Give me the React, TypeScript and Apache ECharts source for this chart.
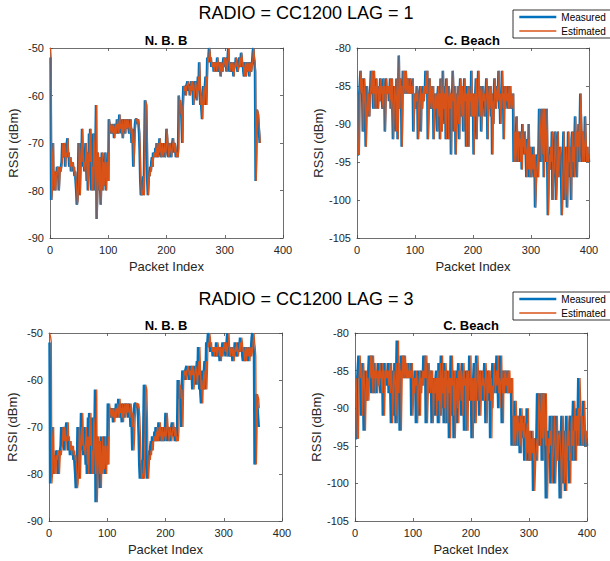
import React, { useEffect, useRef } from "react";
import * as echarts from "echarts";

// ---------- data ----------
const nbbMeasured = [
  -52, -82, -80, -72, -70, -80, -76, -78, -80, -76, -77, -75, -76, -75, -80, -77, -75, -76, -75, -74,
  -70, -72, -73, -70, -71, -75, -72, -73, -70, -69, -73, -72, -75, -74, -73, -76, -74, -75, -74, -76,
  -75, -77, -76, -78, -80, -83, -82, -79, -70, -72, -81, -76, -70, -74, -67, -72, -75, -74, -76, -73,
  -70, -74, -78, -72, -80, -76, -68, -74, -67, -73, -80, -75, -80, -68, -70, -76, -80, -72, -62, -86,
  -80, -72, -75, -80, -73, -78, -83, -76, -72, -80, -74, -79, -76, -72, -78, -80, -74, -78, -72, -78,
  -65, -66, -67, -68, -66, -67, -68, -66, -67, -69, -67, -66, -68, -67, -65, -66, -68, -67, -64, -67,
  -66, -68, -65, -67, -69, -66, -65, -67, -68, -65, -66, -67, -65, -66, -67, -68, -66, -65, -67, -70,
  -67, -70, -75, -72, -68, -66, -65, -65, -65, -66, -65, -66, -68, -72, -78, -81, -80, -81, -81, -77,
  -81, -70, -61, -61, -62, -68, -78, -81, -81, -76, -77, -75, -76, -74, -73, -75, -72, -73, -72, -73,
  -71, -73, -70, -72, -73, -70, -72, -69, -71, -73, -72, -70, -73, -71, -72, -70, -73, -72, -71, -67,
  -69, -71, -73, -72, -70, -71, -72, -73, -71, -70, -69, -71, -72, -70, -71, -73, -72, -72, -73, -71,
  -60, -62, -61, -64, -62, -66, -70, -62, -58, -58, -59, -58, -60, -58, -58, -57, -58, -59, -58, -60,
  -58, -57, -59, -57, -58, -62, -60, -58, -57, -58, -60, -61, -58, -56, -59, -53, -57, -62, -60, -63,
  -65, -60, -58, -62, -60, -58, -56, -62, -58, -52, -53, -52, -50, -51, -53, -52, -54, -53, -54, -53,
  -55, -53, -54, -53, -55, -54, -52, -53, -54, -55, -53, -54, -56, -53, -54, -55, -53, -52, -53, -54,
  -52, -53, -55, -53, -52, -50, -53, -55, -54, -53, -54, -55, -53, -54, -56, -54, -53, -54, -52, -53,
  -54, -55, -54, -53, -52, -54, -53, -51, -52, -54, -53, -55, -56, -54, -53, -56, -54, -53, -55, -54,
  -53, -56, -54, -53, -55, -54, -53, -51, -50, -52, -53, -55, -78, -72, -63, -63, -64, -66, -68, -70,
  -70,
];

const nbbEstimatedLag1 = [
  -50, -52, -82, -80, -72, -70, -80, -76, -78, -80, -76, -77, -75, -76, -75, -80, -77, -75, -76, -75,
  -74, -70, -72, -73, -70, -71, -75, -72, -73, -70, -69, -73, -72, -75, -74, -73, -76, -74, -75, -74,
  -76, -75, -77, -76, -78, -80, -83, -82, -79, -70, -72, -81, -76, -70, -74, -67, -72, -75, -74, -76,
  -73, -70, -74, -78, -72, -80, -76, -68, -74, -67, -73, -80, -75, -80, -68, -70, -76, -80, -72, -62,
  -86, -80, -72, -75, -80, -73, -78, -83, -76, -72, -80, -74, -79, -76, -72, -78, -80, -74, -78, -72,
  -78, -65, -66, -67, -68, -66, -67, -68, -66, -67, -69, -67, -66, -68, -67, -65, -66, -68, -67, -64,
  -67, -66, -68, -65, -67, -69, -66, -65, -67, -68, -65, -66, -67, -65, -66, -67, -68, -66, -65, -67,
  -70, -67, -70, -75, -72, -68, -66, -65, -65, -65, -66, -65, -66, -68, -72, -78, -81, -80, -81, -81,
  -77, -81, -70, -61, -61, -62, -68, -78, -81, -81, -76, -77, -75, -76, -74, -73, -75, -72, -73, -72,
  -73, -71, -73, -70, -72, -73, -70, -72, -69, -71, -73, -72, -70, -73, -71, -72, -70, -73, -72, -71,
  -67, -69, -71, -73, -72, -70, -71, -72, -73, -71, -70, -69, -71, -72, -70, -71, -73, -72, -72, -73,
  -71, -60, -62, -61, -64, -62, -66, -70, -62, -58, -58, -59, -58, -60, -58, -58, -57, -58, -59, -58,
  -60, -58, -57, -59, -57, -58, -62, -60, -58, -57, -58, -60, -61, -58, -56, -59, -53, -57, -62, -60,
  -63, -65, -60, -58, -62, -60, -58, -56, -62, -58, -52, -53, -52, -50, -51, -53, -52, -54, -53, -54,
  -53, -55, -53, -54, -53, -55, -54, -52, -53, -54, -55, -53, -54, -56, -53, -54, -55, -53, -52, -53,
  -54, -52, -53, -55, -53, -52, -50, -53, -55, -54, -53, -54, -55, -53, -54, -56, -54, -53, -54, -52,
  -53, -54, -55, -54, -53, -52, -54, -53, -51, -52, -54, -53, -55, -56, -54, -53, -56, -54, -53, -55,
  -54, -53, -56, -54, -53, -55, -54, -53, -51, -50, -52, -53, -55, -78, -72, -63, -63, -64, -66, -68,
  -70,
];

const nbbEstimatedLag3 = [
  -50, -50, -51, -52, -82, -80, -72, -70, -80, -76, -78, -80, -76, -77, -75, -76, -75, -80, -77, -75,
  -76, -75, -74, -70, -72, -73, -70, -71, -75, -72, -73, -70, -69, -73, -72, -75, -74, -73, -76, -74,
  -75, -74, -76, -75, -77, -76, -78, -80, -83, -82, -79, -70, -72, -81, -76, -70, -74, -67, -72, -75,
  -74, -76, -73, -70, -74, -78, -72, -80, -76, -68, -74, -67, -73, -80, -75, -80, -68, -70, -76, -80,
  -72, -62, -86, -80, -72, -75, -80, -73, -78, -83, -76, -72, -80, -74, -79, -76, -72, -78, -80, -74,
  -78, -72, -78, -65, -66, -67, -68, -66, -67, -68, -66, -67, -69, -67, -66, -68, -67, -65, -66, -68,
  -67, -64, -67, -66, -68, -65, -67, -69, -66, -65, -67, -68, -65, -66, -67, -65, -66, -67, -68, -66,
  -65, -67, -70, -67, -70, -75, -72, -68, -66, -65, -65, -65, -66, -65, -66, -68, -72, -78, -81, -80,
  -81, -81, -77, -81, -70, -61, -61, -62, -68, -78, -81, -81, -76, -77, -75, -76, -74, -73, -75, -72,
  -73, -72, -73, -71, -73, -70, -72, -73, -70, -72, -69, -71, -73, -72, -70, -73, -71, -72, -70, -73,
  -72, -71, -67, -69, -71, -73, -72, -70, -71, -72, -73, -71, -70, -69, -71, -72, -70, -71, -73, -72,
  -72, -73, -71, -60, -62, -61, -64, -62, -66, -70, -62, -58, -58, -59, -58, -60, -58, -58, -57, -58,
  -59, -58, -60, -58, -57, -59, -57, -58, -62, -60, -58, -57, -58, -60, -61, -58, -56, -59, -53, -57,
  -62, -60, -63, -65, -60, -58, -62, -60, -58, -56, -62, -58, -52, -53, -52, -50, -51, -53, -52, -54,
  -53, -54, -53, -55, -53, -54, -53, -55, -54, -52, -53, -54, -55, -53, -54, -56, -53, -54, -55, -53,
  -52, -53, -54, -52, -53, -55, -53, -52, -50, -53, -55, -54, -53, -54, -55, -53, -54, -56, -54, -53,
  -54, -52, -53, -54, -55, -54, -53, -52, -54, -53, -51, -52, -54, -53, -55, -56, -54, -53, -56, -54,
  -53, -55, -54, -53, -56, -54, -53, -55, -54, -53, -51, -50, -52, -53, -55, -78, -72, -63, -63, -64,
  -66,
];

const cbMeasured = [
  -94, -94, -94, -86, -86, -83, -86, -84, -86, -91, -91, -84, -86, -88, -93, -93, -85, -89, -86, -87,
  -89, -86, -85, -83, -86, -83, -86, -88, -83, -86, -85, -88, -84, -86, -85, -88, -86, -85, -87, -84,
  -86, -85, -87, -88, -84, -86, -85, -91, -91, -84, -86, -85, -86, -85, -87, -86, -84, -88, -86, -84,
  -88, -92, -92, -85, -86, -87, -91, -84, -86, -92, -86, -81, -88, -84, -86, -85, -93, -93, -83, -86,
  -83, -84, -86, -83, -85, -86, -84, -86, -85, -86, -84, -86, -86, -85, -86, -84, -91, -91, -86, -88,
  -86, -87, -85, -86, -92, -92, -87, -86, -85, -91, -86, -88, -86, -85, -87, -85, -86, -83, -86, -85,
  -83, -92, -92, -86, -84, -87, -88, -85, -86, -88, -85, -92, -92, -86, -88, -87, -86, -91, -86, -85,
  -89, -86, -92, -84, -86, -91, -87, -83, -88, -86, -90, -85, -92, -84, -86, -87, -92, -85, -86, -88,
  -86, -94, -86, -87, -83, -86, -91, -88, -85, -94, -94, -86, -87, -90, -85, -92, -86, -84, -87, -89,
  -85, -87, -91, -86, -84, -87, -86, -93, -87, -85, -86, -93, -85, -87, -86, -89, -83, -89, -86, -87,
  -94, -86, -89, -86, -84, -92, -88, -86, -83, -86, -89, -86, -85, -91, -88, -86, -85, -87, -86, -89,
  -88, -86, -84, -86, -92, -87, -85, -88, -86, -85, -89, -86, -94, -87, -90, -86, -84, -86, -88, -86,
  -85, -87, -86, -83, -88, -86, -90, -87, -86, -83, -88, -86, -92, -85, -88, -86, -85, -87, -86, -88,
  -85, -88, -86, -85, -88, -86, -87, -88, -86, -95, -95, -91, -95, -93, -89, -89, -95, -91, -93, -92,
  -95, -91, -92, -96, -90, -93, -92, -94, -91, -93, -94, -97, -93, -92, -96, -90, -97, -94, -93, -97,
  -95, -94, -96, -93, -97, -94, -101, -101, -96, -95, -94, -97, -93, -88, -88, -92, -95, -88, -91, -94,
  -88, -97, -88, -88, -93, -95, -88, -94, -102, -102, -94, -96, -93, -94, -95, -91, -100, -97, -96, -94,
  -91, -93, -100, -100, -95, -91, -97, -94, -94, -93, -95, -97, -102, -102, -94, -91, -95, -100, -99, -93,
  -96, -101, -101, -91, -95, -93, -97, -96, -100, -92, -91, -95, -93, -97, -92, -89, -93, -91, -97, -91,
  -93, -90, -95, -91, -86, -86, -92, -95, -91, -93, -95, -93, -89, -92, -95, -94, -93, -95, -94, -95,
];

const cbEstimatedLag1 = [
  -86, -94, -94, -94, -86, -86, -83, -86, -84, -86, -91, -91, -84, -86, -88, -93, -93, -85, -89, -86,
  -87, -89, -86, -85, -83, -86, -83, -86, -88, -83, -86, -85, -88, -84, -86, -85, -88, -86, -85, -87,
  -84, -86, -85, -87, -88, -84, -86, -85, -91, -91, -84, -86, -85, -86, -85, -87, -86, -84, -88, -86,
  -84, -88, -92, -92, -85, -86, -87, -91, -84, -86, -92, -86, -81, -88, -84, -86, -85, -93, -93, -83,
  -86, -83, -84, -86, -83, -85, -86, -84, -86, -85, -86, -84, -86, -86, -85, -86, -84, -91, -91, -86,
  -88, -86, -87, -85, -86, -92, -92, -87, -86, -85, -91, -86, -88, -86, -85, -87, -85, -86, -83, -86,
  -85, -83, -92, -92, -86, -84, -87, -88, -85, -86, -88, -85, -92, -92, -86, -88, -87, -86, -91, -86,
  -85, -89, -86, -92, -84, -86, -91, -87, -83, -88, -86, -90, -85, -92, -84, -86, -87, -92, -85, -86,
  -88, -86, -94, -86, -87, -83, -86, -91, -88, -85, -94, -94, -86, -87, -90, -85, -92, -86, -84, -87,
  -89, -85, -87, -91, -86, -84, -87, -86, -93, -87, -85, -86, -93, -85, -87, -86, -89, -83, -89, -86,
  -87, -94, -86, -89, -86, -84, -92, -88, -86, -83, -86, -89, -86, -85, -91, -88, -86, -85, -87, -86,
  -89, -88, -86, -84, -86, -92, -87, -85, -88, -86, -85, -89, -86, -94, -87, -90, -86, -84, -86, -88,
  -86, -85, -87, -86, -83, -88, -86, -90, -87, -86, -83, -88, -86, -92, -85, -88, -86, -85, -87, -86,
  -88, -85, -88, -86, -85, -88, -86, -87, -88, -86, -95, -95, -91, -95, -93, -89, -89, -95, -91, -93,
  -92, -95, -91, -92, -96, -90, -93, -92, -94, -91, -93, -94, -97, -93, -92, -96, -90, -97, -94, -93,
  -97, -95, -94, -96, -93, -97, -94, -101, -101, -96, -95, -94, -97, -93, -88, -88, -92, -95, -88, -91,
  -94, -88, -97, -88, -88, -93, -95, -88, -94, -102, -102, -94, -96, -93, -94, -95, -91, -100, -97, -96,
  -94, -91, -93, -100, -100, -95, -91, -97, -94, -94, -93, -95, -97, -102, -102, -94, -91, -95, -100, -99,
  -93, -96, -101, -101, -91, -95, -93, -97, -96, -100, -92, -91, -95, -93, -97, -92, -89, -93, -91, -97,
  -91, -93, -90, -95, -91, -86, -86, -92, -95, -91, -93, -95, -93, -89, -92, -95, -94, -93, -95, -94,
];

const cbEstimatedLag3 = [
  -88, -86, -90, -94, -94, -94, -86, -86, -83, -86, -84, -86, -91, -91, -84, -86, -88, -93, -93, -85,
  -89, -86, -87, -89, -86, -85, -83, -86, -83, -86, -88, -83, -86, -85, -88, -84, -86, -85, -88, -86,
  -85, -87, -84, -86, -85, -87, -88, -84, -86, -85, -91, -91, -84, -86, -85, -86, -85, -87, -86, -84,
  -88, -86, -84, -88, -92, -92, -85, -86, -87, -91, -84, -86, -92, -86, -81, -88, -84, -86, -85, -93,
  -93, -83, -86, -83, -84, -86, -83, -85, -86, -84, -86, -85, -86, -84, -86, -86, -85, -86, -84, -91,
  -91, -86, -88, -86, -87, -85, -86, -92, -92, -87, -86, -85, -91, -86, -88, -86, -85, -87, -85, -86,
  -83, -86, -85, -83, -92, -92, -86, -84, -87, -88, -85, -86, -88, -85, -92, -92, -86, -88, -87, -86,
  -91, -86, -85, -89, -86, -92, -84, -86, -91, -87, -83, -88, -86, -90, -85, -92, -84, -86, -87, -92,
  -85, -86, -88, -86, -94, -86, -87, -83, -86, -91, -88, -85, -94, -94, -86, -87, -90, -85, -92, -86,
  -84, -87, -89, -85, -87, -91, -86, -84, -87, -86, -93, -87, -85, -86, -93, -85, -87, -86, -89, -83,
  -89, -86, -87, -94, -86, -89, -86, -84, -92, -88, -86, -83, -86, -89, -86, -85, -91, -88, -86, -85,
  -87, -86, -89, -88, -86, -84, -86, -92, -87, -85, -88, -86, -85, -89, -86, -94, -87, -90, -86, -84,
  -86, -88, -86, -85, -87, -86, -83, -88, -86, -90, -87, -86, -83, -88, -86, -92, -85, -88, -86, -85,
  -87, -86, -88, -85, -88, -86, -85, -88, -86, -87, -88, -86, -95, -95, -91, -95, -93, -89, -89, -95,
  -91, -93, -92, -95, -91, -92, -96, -90, -93, -92, -94, -91, -93, -94, -97, -93, -92, -96, -90, -97,
  -94, -93, -97, -95, -94, -96, -93, -97, -94, -101, -101, -96, -95, -94, -97, -93, -88, -88, -92, -95,
  -88, -91, -94, -88, -97, -88, -88, -93, -95, -88, -94, -102, -102, -94, -96, -93, -94, -95, -91, -100,
  -97, -96, -94, -91, -93, -100, -100, -95, -91, -97, -94, -94, -93, -95, -97, -102, -102, -94, -91, -95,
  -100, -99, -93, -96, -101, -101, -91, -95, -93, -97, -96, -100, -92, -91, -95, -93, -97, -92, -89, -93,
  -91, -97, -91, -93, -90, -95, -91, -86, -86, -92, -95, -91, -93, -95, -93, -89, -92, -95, -94, -93,
];

const superTitles = ["RADIO = CC1200 LAG = 1", "RADIO = CC1200 LAG = 3"];
const panelTitles = ["N. B. B", "C. Beach", "N. B. B", "C. Beach"];
const seriesNames = ["Measured", "Estimated"];
const xTickRange = [0, 400, 100];
const nbbYRange = [-90, -50, 10];
const cbYRange = [-105, -80, 5];

const BLUE = "#0072BD";
const ORANGE = "#D95319";
const AXIS = "#4a4a4a";
const FONT = "Liberation Sans, Arial, Helvetica, sans-serif";

const toPairs = (arr: number[]) => arr.map((v, i) => [i + 1, v]);

export default function App() {
  const ref = useRef<HTMLDivElement>(null);
  useEffect(() => {
    if (!ref.current) return;
    const chart = echarts.init(ref.current, null, { renderer: "svg" });

    const panels = [
      { grid: { left: 50, top: 48, width: 233, height: 190 }, y: nbbYRange, meas: nbbMeasured, est: nbbEstimatedLag1, tx: 166, ty: 40 },
      { grid: { left: 357, top: 48, width: 232, height: 190 }, y: cbYRange, meas: cbMeasured, est: cbEstimatedLag1, tx: 472, ty: 40 },
      { grid: { left: 49, top: 333, width: 233, height: 188 }, y: nbbYRange, meas: nbbMeasured, est: nbbEstimatedLag3, tx: 166, ty: 325 },
      { grid: { left: 355, top: 333, width: 232, height: 188 }, y: cbYRange, meas: cbMeasured, est: cbEstimatedLag3, tx: 471, ty: 325 },
    ];

    const lineStyle = { color: AXIS, width: 0.8 };
    const grids: any[] = [];
    const xAxes: any[] = [];
    const yAxes: any[] = [];
    const series: any[] = [];
    const graphics: any[] = [];

    panels.forEach((p, i) => {
      grids.push({ ...p.grid, containLabel: false });
      const base = {
        gridIndex: i,
        type: "value",
        splitLine: { show: false },
        axisLine: { show: true, onZero: false, lineStyle },
        axisTick: { show: true, inside: true, length: 3, lineStyle },
      };
      xAxes.push({
        ...base,
        position: "bottom",
        min: xTickRange[0],
        max: xTickRange[1],
        interval: xTickRange[2],
        axisLabel: { color: "#262626", fontSize: 11, fontFamily: FONT, margin: 6 },
        name: "Packet Index",
        nameLocation: "middle",
        nameGap: 22,
        nameTextStyle: { color: "#262626", fontSize: 13, fontFamily: FONT },
      });
      xAxes.push({
        ...base,
        position: "top",
        min: xTickRange[0],
        max: xTickRange[1],
        interval: xTickRange[2],
        axisLabel: { show: false },
      });
      yAxes.push({
        ...base,
        position: "left",
        min: p.y[0],
        max: p.y[1],
        interval: p.y[2],
        axisLabel: { color: "#262626", fontSize: 11, fontFamily: FONT, margin: 6 },
        name: "RSSI (dBm)",
        nameLocation: "middle",
        nameGap: 30,
        nameTextStyle: { color: "#262626", fontSize: 13, fontFamily: FONT },
      });
      yAxes.push({
        ...base,
        position: "right",
        min: p.y[0],
        max: p.y[1],
        interval: p.y[2],
        axisLabel: { show: false },
      });
      series.push({
        type: "line",
        name: seriesNames[0],
        xAxisIndex: 2 * i,
        yAxisIndex: 2 * i,
        data: toPairs(p.meas),
        symbol: "none",
        showSymbol: false,
        lineStyle: { color: BLUE, width: 2.6 },
        itemStyle: { color: BLUE },
        z: 2,
      });
      series.push({
        type: "line",
        name: seriesNames[1],
        xAxisIndex: 2 * i,
        yAxisIndex: 2 * i,
        data: toPairs(p.est),
        symbol: "none",
        showSymbol: false,
        lineStyle: { color: ORANGE, width: 1.3 },
        itemStyle: { color: ORANGE },
        z: 3,
      });
      graphics.push({
        type: "text",
        x: p.tx,
        y: p.ty,
        style: {
          text: panelTitles[i],
          fontSize: 13,
          fontWeight: "bold",
          fontFamily: FONT,
          fill: "#000",
          align: "center",
          verticalAlign: "middle",
          textAlign: "center",
          textVerticalAlign: "middle",
        },
      });
    });

    [13, 299].forEach((y, k) => {
      graphics.push({
        type: "text",
        x: 306,
        y,
        style: {
          text: superTitles[k],
          fontSize: 18,
          fontFamily: FONT,
          fill: "#000",
          align: "center",
          verticalAlign: "middle",
          textAlign: "center",
          textVerticalAlign: "middle",
        },
      });
    });

    const legendData = [
      { name: seriesNames[0], itemStyle: { opacity: 0 }, lineStyle: { width: 2.6, color: BLUE } },
      { name: seriesNames[1], itemStyle: { opacity: 0 }, lineStyle: { width: 1.3, color: ORANGE } },
    ];

    const legendBase = {
      orient: "vertical",
      left: 513,
      data: legendData,
      itemWidth: 37,
      itemHeight: 10,
      itemGap: 4,
      padding: [2, 6, 2, 5],
      borderColor: "#000",
      borderWidth: 0.8,
      backgroundColor: "#fff",
      selectedMode: false,
      itemStyle: { opacity: 0 },
      textStyle: { fontSize: 10, fontFamily: FONT, color: "#000" },
    };

    chart.setOption({
      animation: false,
      backgroundColor: "#fff",
      grid: grids,
      xAxis: xAxes,
      yAxis: yAxes,
      series,
      legend: [
        { ...legendBase, top: 10 },
        { ...legendBase, top: 292 },
      ],
      graphic: graphics,
    });

    return () => chart.dispose();
  }, []);

  return (
    <div
      ref={ref}
      style={{ position: "fixed", left: 0, top: 0, width: 610, height: 561, background: "#fff" }}
    />
  );
}
